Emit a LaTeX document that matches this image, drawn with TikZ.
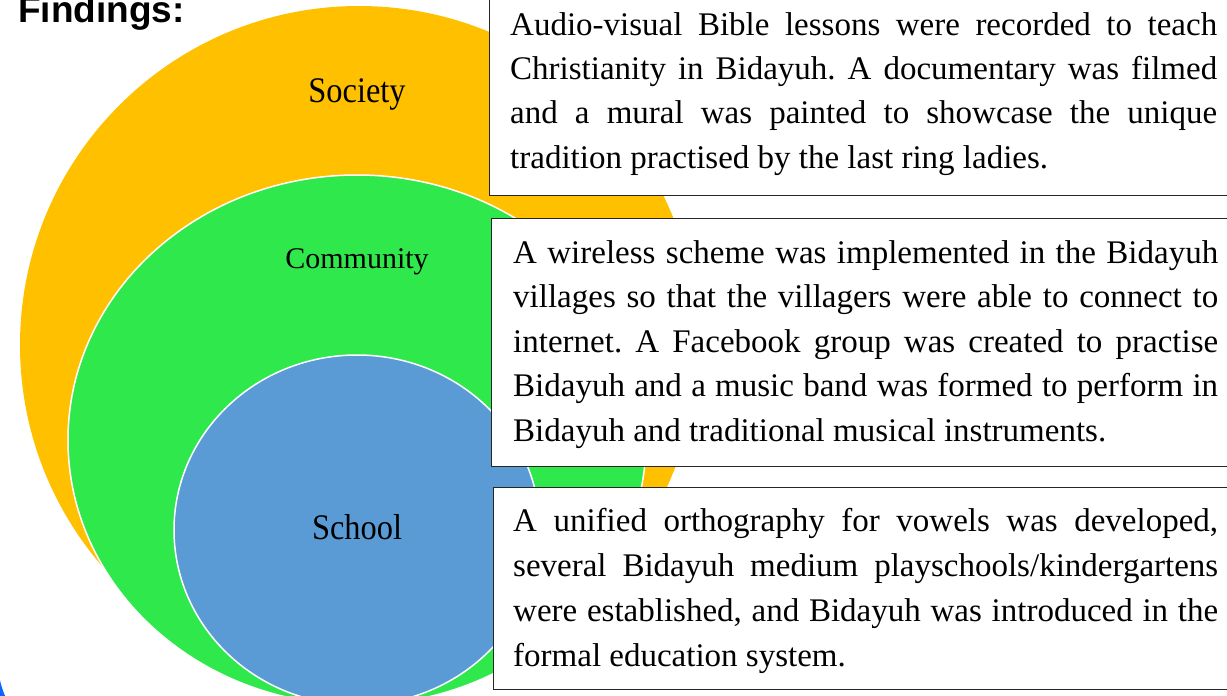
\documentclass[tikz,border=0pt]{standalone}
\usepackage{fontspec}
\usepackage{graphicx}
\setmainfont{Liberation Serif}
\newfontfamily\arialfont{Liberation Sans}
\definecolor{socorange}{HTML}{FFC000}
\definecolor{comgreen}{HTML}{2FE84B}
\definecolor{schblue}{HTML}{5B9BD5}
\definecolor{arcblue}{HTML}{0A66FF}
\newcommand{\jline}[1]{\makebox[\linewidth][s]{#1}}
\tikzset{
  ringlabel/.style={inner sep=0pt, anchor=base},
  infobox/.style={draw=black!85, line width=1.3pt, fill=white, anchor=north west, inner sep=0pt},
  infotext/.style={anchor=base west, inner sep=0pt},
}
\frenchspacing
\begin{document}
\begin{tikzpicture}[x=1pt,y=-1pt]
\useasboundingbox (0,0) rectangle (1227,696);
\begin{scope}
\clip (0,0) rectangle (1227,696);
% rings
\fill[socorange] (359,345) circle [radius=339pt];
\filldraw[fill=comgreen, draw=white, line width=1.5pt] (357,440) ellipse [x radius=289pt, y radius=265pt];
\filldraw[fill=schblue, draw=white, line width=1.5pt] (357,530) ellipse [x radius=183pt, y radius=175pt];
% small blue arc at lower left
\draw[arcblue, line width=6pt] (-7,655) .. controls (-3,684) .. (5,704);
% boxes
\node[infobox, minimum width=760pt, minimum height=200pt] (box1) at (489,-5) {};
\node[infobox, minimum width=760pt, minimum height=248pt] (box2) at (491,218) {};
\node[infobox, minimum width=760pt, minimum height=202pt] (box3) at (493,487) {};
\end{scope}
% ring labels
\node[ringlabel] (society) at (357,102) {\fontsize{36}{40}\selectfont\scalebox{0.9}[1]{Society}};
\node[ringlabel] (community) at (357,268) {\fontsize{30}{34}\selectfont Community};
\node[ringlabel] (school) at (357,539) {\fontsize{36}{40}\selectfont\scalebox{0.9}[1]{School}};
% title
\node[anchor=base west, inner sep=0pt] (findings) at (18,23) {\arialfont\bfseries\fontsize{37}{40}\selectfont Findings:};
% texts
\node[infotext] (text1) at (510,35) {\parbox[t]{707pt}{\fontsize{33}{44.5}\selectfont
\jline{Audio-visual Bible lessons were recorded to teach}\\
\jline{Christianity in Bidayuh. A documentary was filmed}\\
\jline{and a mural was painted to showcase the unique}\\
tradition practised by the last ring ladies.}};
\node[infotext] (text2) at (513,263) {\parbox[t]{705pt}{\fontsize{33}{44.5}\selectfont
\jline{A wireless scheme was implemented in the Bidayuh}\\
\jline{villages so that the villagers were able to connect to}\\
\jline{internet. A Facebook group was created to practise}\\
\jline{Bidayuh and a music band was formed to perform in}\\
Bidayuh and traditional musical instruments.}};
\node[infotext] (text3) at (513,531) {\parbox[t]{705pt}{\fontsize{33}{45}\selectfont
\jline{A unified orthography for vowels was developed,}\\
\jline{several Bidayuh medium playschools/kindergartens}\\
\jline{were established, and Bidayuh was introduced in the}\\
formal education system.}};
\end{tikzpicture}
\end{document}
